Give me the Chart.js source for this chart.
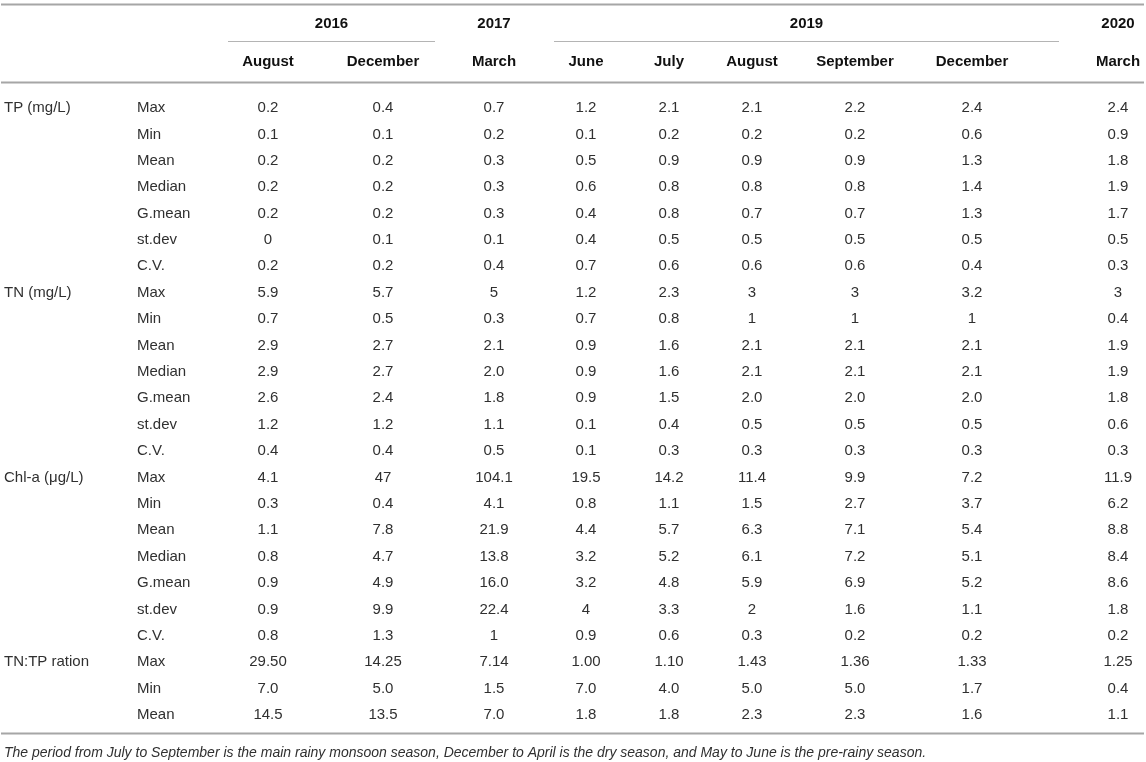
<!DOCTYPE html>
<html>
<head>
<meta charset="utf-8">
<title>Nutrient and Chl-a statistics</title>
<script src="https://cdn.jsdelivr.net/npm/chart.js@4.4.1/dist/chart.umd.min.js"></script>
<style>
    html, body { margin: 0; padding: 0; background: #ffffff; }
    #wrap { width: 1146px; height: 762px; }
</style>
</head>
<body>
<div id="wrap"><canvas id="tableChart" width="1146" height="762"></canvas></div>
<script>
// ---- data ----
const months = ['August', 'December', 'March', 'June', 'July', 'August', 'September', 'December', 'March'];
const years = ['2016', '2017', '2019', '2020'];
const yearMonths = [[0, 1], [2, 2], [3, 7], [8, 8]]; // first and last month index of each year
const groups = ['TP (mg/L)', 'TN (mg/L)', 'Chl-a (\u03bcg/L)', 'TN:TP ration'];
const statsFull = ['Max', 'Min', 'Mean', 'Median', 'G.mean', 'st.dev', 'C.V.'];
const statsRatio = ['Max', 'Min', 'Mean'];

const tpValues = [
    ['0.2', '0.4', '0.7', '1.2', '2.1', '2.1', '2.2', '2.4', '2.4'],
    ['0.1', '0.1', '0.2', '0.1', '0.2', '0.2', '0.2', '0.6', '0.9'],
    ['0.2', '0.2', '0.3', '0.5', '0.9', '0.9', '0.9', '1.3', '1.8'],
    ['0.2', '0.2', '0.3', '0.6', '0.8', '0.8', '0.8', '1.4', '1.9'],
    ['0.2', '0.2', '0.3', '0.4', '0.8', '0.7', '0.7', '1.3', '1.7'],
    ['0', '0.1', '0.1', '0.4', '0.5', '0.5', '0.5', '0.5', '0.5'],
    ['0.2', '0.2', '0.4', '0.7', '0.6', '0.6', '0.6', '0.4', '0.3']
];
const tnValues = [
    ['5.9', '5.7', '5', '1.2', '2.3', '3', '3', '3.2', '3'],
    ['0.7', '0.5', '0.3', '0.7', '0.8', '1', '1', '1', '0.4'],
    ['2.9', '2.7', '2.1', '0.9', '1.6', '2.1', '2.1', '2.1', '1.9'],
    ['2.9', '2.7', '2.0', '0.9', '1.6', '2.1', '2.1', '2.1', '1.9'],
    ['2.6', '2.4', '1.8', '0.9', '1.5', '2.0', '2.0', '2.0', '1.8'],
    ['1.2', '1.2', '1.1', '0.1', '0.4', '0.5', '0.5', '0.5', '0.6'],
    ['0.4', '0.4', '0.5', '0.1', '0.3', '0.3', '0.3', '0.3', '0.3']
];
const chlValues = [
    ['4.1', '47', '104.1', '19.5', '14.2', '11.4', '9.9', '7.2', '11.9'],
    ['0.3', '0.4', '4.1', '0.8', '1.1', '1.5', '2.7', '3.7', '6.2'],
    ['1.1', '7.8', '21.9', '4.4', '5.7', '6.3', '7.1', '5.4', '8.8'],
    ['0.8', '4.7', '13.8', '3.2', '5.2', '6.1', '7.2', '5.1', '8.4'],
    ['0.9', '4.9', '16.0', '3.2', '4.8', '5.9', '6.9', '5.2', '8.6'],
    ['0.9', '9.9', '22.4', '4', '3.3', '2', '1.6', '1.1', '1.8'],
    ['0.8', '1.3', '1', '0.9', '0.6', '0.3', '0.2', '0.2', '0.2']
];
const ratioValues = [
    ['29.50', '14.25', '7.14', '1.00', '1.10', '1.43', '1.36', '1.33', '1.25'],
    ['7.0', '5.0', '1.5', '7.0', '4.0', '5.0', '5.0', '1.7', '0.4'],
    ['14.5', '13.5', '7.0', '1.8', '1.8', '2.3', '2.3', '1.6', '1.1']
];
const footnote = 'The period from July to September is the main rainy monsoon season, December to April is the dry season, and May to June is the pre-rainy season.';

// ---- layout (x in page units, y in row units) ----
const colX = [268, 383, 494, 586, 669, 752, 855, 972, 1118];
const yearRule = [[228, 435], null, [554, 1059], null];
const groupX = 4;
const statX = 137;
const ruleLeft = 1;
const ruleRight = 1144;
const yYear = -3.18;
const yMonth = -1.74;
const yTopRule = -3.94;
const ySpanRule = -2.54;
const yHeadRule = -0.985;
const yBottomRule = 23.68;
const yFootnote = 24.45;

const font = '"Liberation Sans", Arial, Helvetica, sans-serif';

// rows in table order
const groupStats = [statsFull, statsFull, statsFull, statsRatio];
const groupValues = [tpValues, tnValues, chlValues, ratioValues];
const rows = [];
groups.forEach((g, gi) => {
    groupStats[gi].forEach((s, si) => {
        rows.push({ group: si === 0 ? g : '', stat: s, values: groupValues[gi][si] });
    });
});

const datasets = months.map((m, c) => ({
    label: m,
    data: rows.map((r, i) => ({ x: colX[c], y: i })),
    pointRadius: 0,
    pointHoverRadius: 0
}));

const tablePlugin = {
    id: 'tableText',
    afterDraw(chart) {
        const ctx = chart.ctx;
        const xs = chart.scales.x;
        const ys = chart.scales.y;
        ctx.save();

        function rule(y, x1, x2, color, w) {
            const py = Math.round(ys.getPixelForValue(y)) + 0.5;
            ctx.beginPath();
            ctx.strokeStyle = color;
            ctx.lineWidth = w;
            ctx.moveTo(xs.getPixelForValue(x1), py);
            ctx.lineTo(xs.getPixelForValue(x2), py);
            ctx.stroke();
        }

        rule(yTopRule, ruleLeft, ruleRight, '#a6a6a6', 2);
        rule(yHeadRule, ruleLeft, ruleRight, '#a6a6a6', 2);
        rule(yBottomRule, ruleLeft, ruleRight, '#a6a6a6', 2);
        yearRule.forEach(r => {
            if (r) rule(ySpanRule, r[0], r[1], '#b4b4b4', 1);
        });

        // header
        ctx.fillStyle = '#111111';
        ctx.font = 'bold 15px ' + font;
        ctx.textAlign = 'center';
        ctx.textBaseline = 'middle';
        years.forEach((yr, i) => {
            const span = yearMonths[i];
            let cx;
            if (yearRule[i]) {
                cx = (xs.getPixelForValue(yearRule[i][0]) + xs.getPixelForValue(yearRule[i][1])) / 2;
            } else {
                cx = xs.getPixelForValue(colX[span[0]]);
            }
            ctx.fillText(yr, cx, ys.getPixelForValue(yYear));
        });
        months.forEach((m, c) => {
            ctx.fillText(m, xs.getPixelForValue(colX[c]), ys.getPixelForValue(yMonth));
        });

        // row labels
        ctx.fillStyle = '#303030';
        ctx.font = '15px ' + font;
        ctx.textAlign = 'left';
        rows.forEach((r, i) => {
            const py = ys.getPixelForValue(i);
            if (r.group) ctx.fillText(r.group, xs.getPixelForValue(groupX), py);
            ctx.fillText(r.stat, xs.getPixelForValue(statX), py);
        });

        // cells, placed at the dataset points
        ctx.textAlign = 'center';
        chart.data.datasets.forEach((ds, c) => {
            const meta = chart.getDatasetMeta(c);
            meta.data.forEach((pt, i) => {
                ctx.fillText(rows[i].values[c], pt.x, pt.y);
            });
        });

        // footnote
        ctx.font = 'italic 14px ' + font;
        ctx.textAlign = 'left';
        ctx.fillStyle = '#303030';
        ctx.fillText(footnote, xs.getPixelForValue(groupX), ys.getPixelForValue(yFootnote));

        ctx.restore();
    }
};

const rowPx = 26.39;
const firstRowPx = 108;
new Chart(document.getElementById('tableChart'), {
    type: 'scatter',
    data: { datasets: datasets },
    options: {
        responsive: false,
        animation: false,
        events: [],
        layout: {
            padding: {
                top: firstRowPx - rowPx / 2,
                bottom: 762 - (firstRowPx + rowPx * (rows.length - 1) + rowPx / 2),
                left: 0,
                right: 0
            }
        },
        plugins: {
            legend: { display: false },
            tooltip: { enabled: false }
        },
        scales: {
            x: { type: 'linear', min: 0, max: 1146, display: false },
            y: { type: 'linear', reverse: true, min: -0.5, max: rows.length - 0.5, display: false }
        }
    },
    plugins: [tablePlugin]
});
</script>
</body>
</html>
